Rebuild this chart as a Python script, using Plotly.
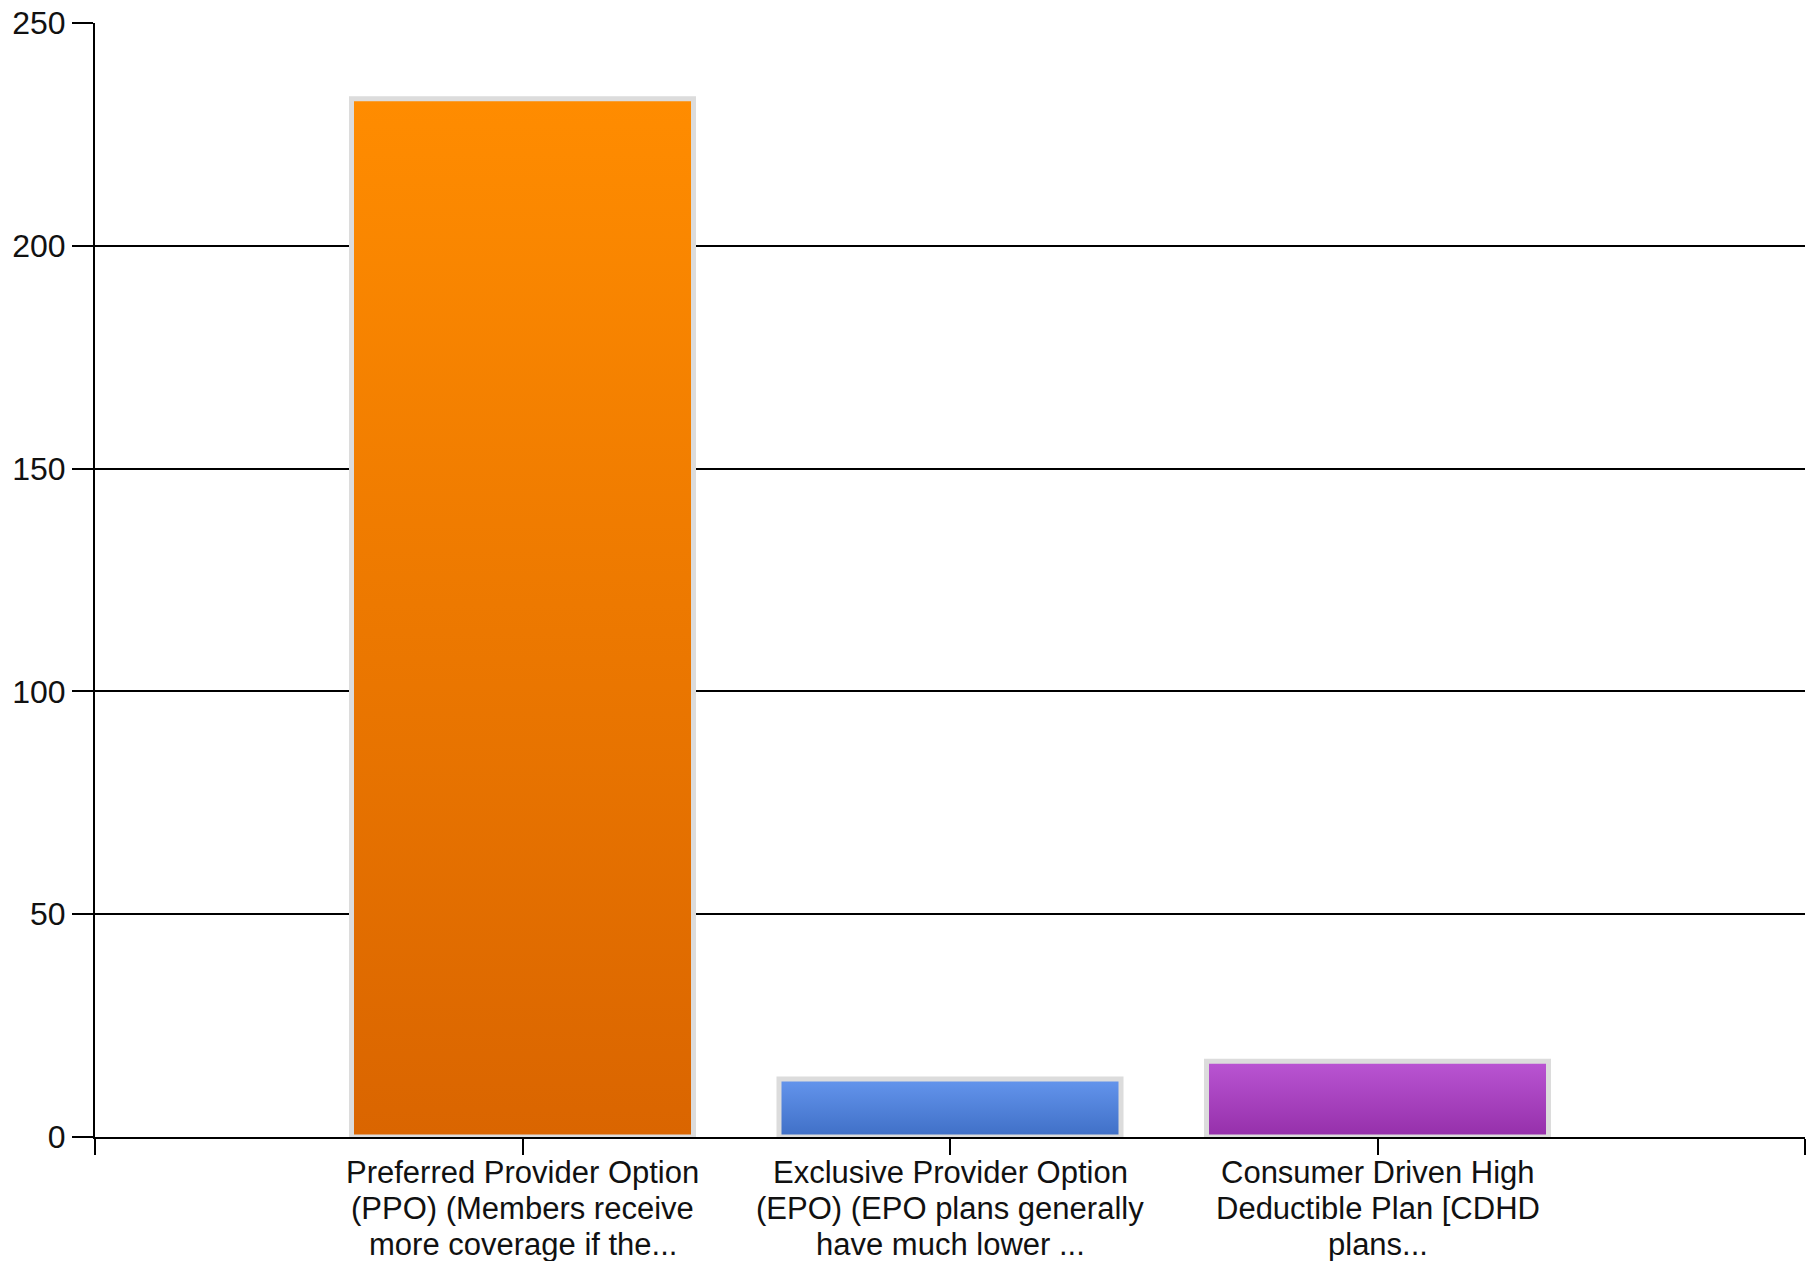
import plotly.graph_objects as go

# ---- data ----
categories = [
    "Preferred Provider Option (PPO) (Members receive more coverage if the...",
    "Exclusive Provider Option (EPO) (EPO plans generally have much lower ...",
    "Consumer Driven High Deductible Plan [CDHD plans...",
]
label_lines = [
    ["Preferred Provider Option", "(PPO) (Members receive", "more coverage if the..."],
    ["Exclusive Provider Option", "(EPO) (EPO plans generally", "have much lower ..."],
    ["Consumer Driven High", "Deductible Plan [CDHD", "plans..."],
]
values = [233, 13, 17]
positions = [1, 2, 3]
y_ticks = [0, 50, 100, 150, 200, 250]

# ---- style ----
top_colors = ["#FF8C00", "#6495ED", "#BA55D3"]
bottom_colors = ["#DA6500", "#3F6FC6", "#952FAA"]
mid_colors = ["#ED7A00", "#5282DA", "#A842BF"]
FONT = "Liberation Sans, Arial, sans-serif"

fig = go.Figure()
fig.add_trace(go.Bar(
    x=positions, y=values, width=0.8,
    marker=dict(color=mid_colors, line=dict(color="#DCDCDC", width=5)),
    hovertext=categories, hoverinfo="text+y", showlegend=False,
))

annotations = []
for pos, lines in zip(positions, label_lines):
    for i, line in enumerate(lines):
        annotations.append(dict(
            x=pos, y=0, xref="x", yref="y", text=line, showarrow=False,
            xanchor="center", yanchor="middle", yshift=-35 - i * 36,
            font=dict(family=FONT, size=31, color="#111111"),
        ))

fig.update_layout(
    width=1816, height=1261,
    margin=dict(l=95, r=11, t=23, b=124, autoexpand=False),
    paper_bgcolor="white", plot_bgcolor="white",
    annotations=annotations,
    xaxis=dict(
        range=[0, 4], tickvals=[0, 1, 2, 3, 4], ticktext=["", "", "", "", ""],
        showgrid=False, zeroline=False, automargin=False,
        showline=True, linecolor="black", linewidth=2,
        ticks="outside", ticklen=16, tickwidth=2, tickcolor="black",
        fixedrange=True,
    ),
    yaxis=dict(
        range=[0, 250], tickvals=y_ticks, automargin=False,
        showgrid=True, gridcolor="black", gridwidth=2,
        zeroline=False,
        showline=True, linecolor="black", linewidth=2,
        ticks="outside", ticklen=21, tickwidth=2, tickcolor="black",
        tickfont=dict(family=FONT, size=32, color="#111111"),
        fixedrange=True,
    ),
)

post = """
document.body.style.margin = '0';
document.body.style.padding = '0';
document.body.style.overflow = 'hidden';
var gd = document.getElementById('{plot_id}');
var TOP = %s, BOT = %s;
function applyGrad(){
  var svg = gd.querySelector('svg.main-svg');
  if(!svg) return;
  var defs = svg.querySelector('defs');
  var NS = 'http://www.w3.org/2000/svg';
  for (var i = 0; i < TOP.length; i++) {
    if (document.getElementById('bargrad' + i)) continue;
    var lg = document.createElementNS(NS, 'linearGradient');
    lg.setAttribute('id', 'bargrad' + i);
    lg.setAttribute('x1', '0'); lg.setAttribute('y1', '0');
    lg.setAttribute('x2', '0'); lg.setAttribute('y2', '1');
    var s1 = document.createElementNS(NS, 'stop');
    s1.setAttribute('offset', '0'); s1.setAttribute('stop-color', TOP[i]);
    var s2 = document.createElementNS(NS, 'stop');
    s2.setAttribute('offset', '1'); s2.setAttribute('stop-color', BOT[i]);
    lg.appendChild(s1); lg.appendChild(s2);
    defs.appendChild(lg);
  }
  var paths = gd.querySelectorAll('.barlayer .point path');
  for (var j = 0; j < paths.length; j++) {
    paths[j].style.fill = 'url(#bargrad' + j + ')';
  }
}
applyGrad();
gd.on('plotly_afterplot', applyGrad);
""" % (str(top_colors), str(bottom_colors))

fig.write_html("out.html", post_script=post, config={"displayModeBar": False})
